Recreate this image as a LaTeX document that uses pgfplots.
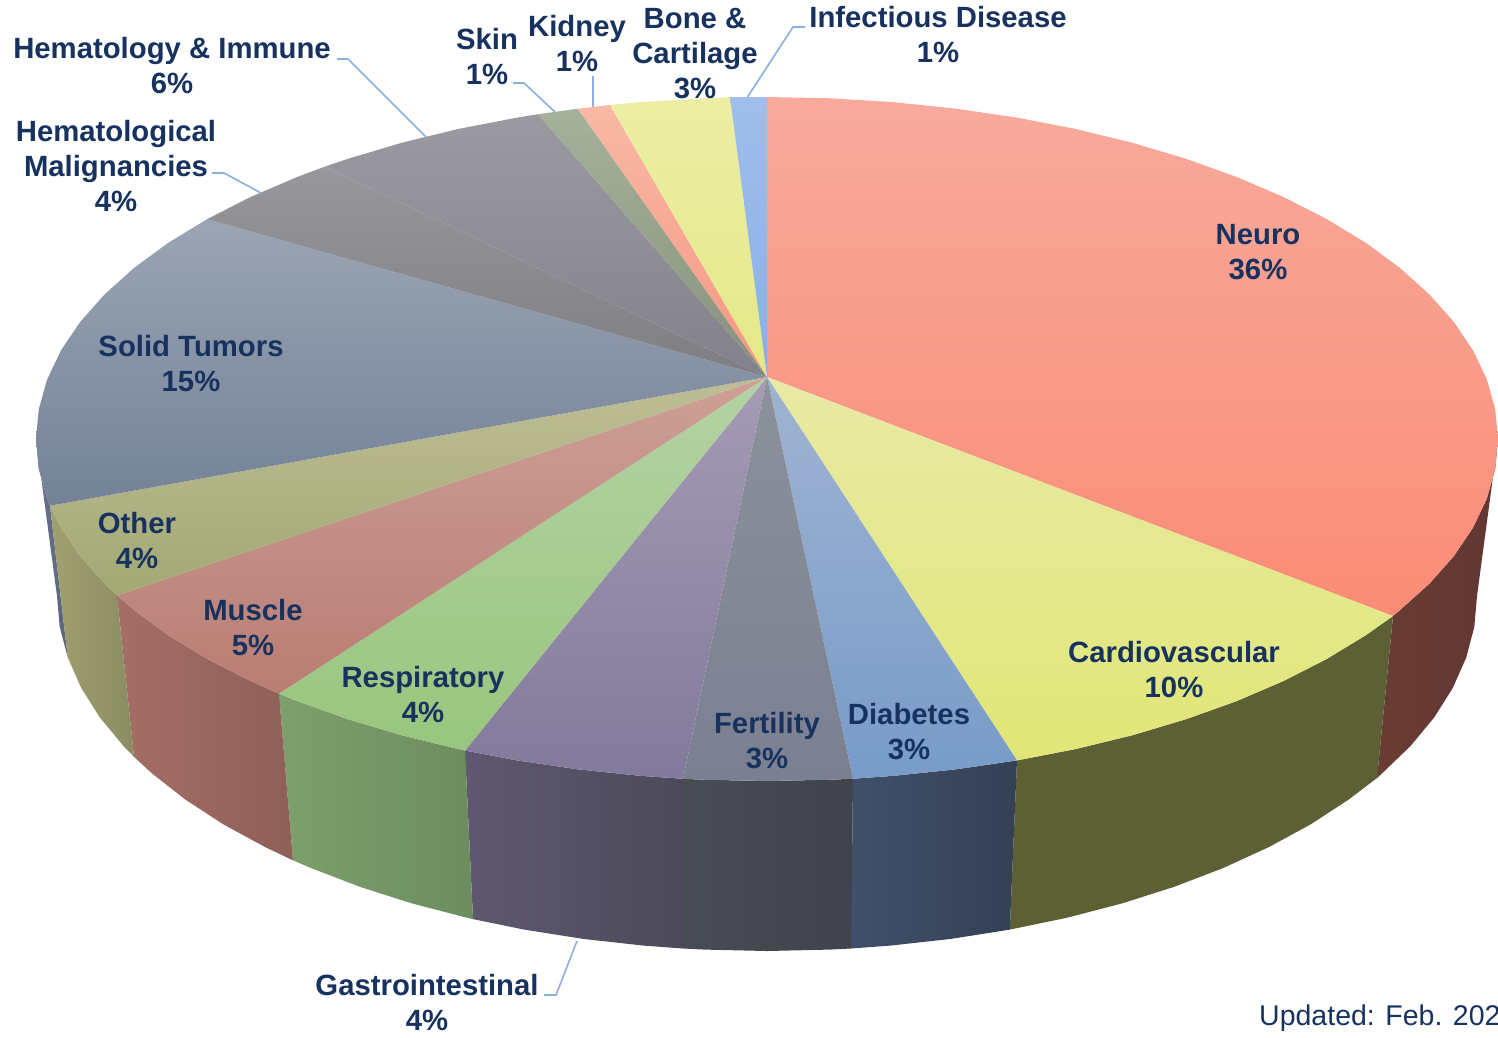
\documentclass[border=0pt]{standalone}
\usepackage{fontspec}
\setmainfont{Liberation Sans}
\usepackage{pgfplots}
\pgfplotsset{compat=1.18}
\definecolor{lab}{RGB}{23,50,95}
\definecolor{lead}{RGB}{140,175,225}
\definecolor{nT}{RGB}{247,170,156}\definecolor{nB}{RGB}{250,140,118}
\definecolor{cT}{RGB}{232,233,165}\definecolor{cB}{RGB}{224,231,118}
\definecolor{dT}{RGB}{160,180,210}\definecolor{dB}{RGB}{120,155,200}
\definecolor{fT}{RGB}{140,145,155}\definecolor{fB}{RGB}{122,128,145}
\definecolor{gT}{RGB}{165,155,180}\definecolor{gB}{RGB}{130,122,155}
\definecolor{rT}{RGB}{180,210,165}\definecolor{rB}{RGB}{152,198,125}
\definecolor{mT}{RGB}{205,160,150}\definecolor{mB}{RGB}{185,125,115}
\definecolor{oT}{RGB}{190,190,150}\definecolor{oB}{RGB}{163,168,115}
\definecolor{sT}{RGB}{155,165,180}\definecolor{sB}{RGB}{115,130,150}
\definecolor{hT}{RGB}{152,152,156}\definecolor{hB}{RGB}{125,125,130}
\definecolor{iT}{RGB}{156,154,161}\definecolor{iB}{RGB}{130,128,138}
\definecolor{kT}{RGB}{165,178,155}\definecolor{kB}{RGB}{135,145,125}
\definecolor{yT}{RGB}{248,185,165}\definecolor{yB}{RGB}{245,150,130}
\definecolor{bT}{RGB}{236,238,165}\definecolor{bB}{RGB}{228,232,135}
\definecolor{xT}{RGB}{160,190,235}\definecolor{xB}{RGB}{135,175,230}
\definecolor{nL}{RGB}{105,60,52}\definecolor{nR}{RGB}{98,55,50}
\definecolor{cL}{RGB}{93,95,52}\definecolor{cR}{RGB}{93,95,52}
\definecolor{dL}{RGB}{64,80,108}\definecolor{dR}{RGB}{52,64,84}
\definecolor{fL}{RGB}{72,76,84}\definecolor{fR}{RGB}{64,66,76}
\definecolor{gL}{RGB}{94,88,112}\definecolor{gR}{RGB}{76,74,90}
\definecolor{rL}{RGB}{125,160,108}\definecolor{rR}{RGB}{108,140,95}
\definecolor{mL}{RGB}{165,110,102}\definecolor{mR}{RGB}{142,95,88}
\definecolor{oL}{RGB}{160,160,112}\definecolor{oR}{RGB}{138,140,98}
\definecolor{sL}{RGB}{105,115,140}\definecolor{sR}{RGB}{90,100,125}
\tikzset{lbl/.style={text=lab,align=center,font=\fontsize{29.3}{35}\selectfont\bfseries,inner sep=0pt}}
\begin{document}
\begin{tikzpicture}
\path[use as bounding box] (0,0) rectangle (1498pt,1037pt);
\begin{axis}[at={(0,0)},anchor=south west,scale only axis,width=1498pt,height=1037pt,
  xmin=0,xmax=1498,ymin=0,ymax=1037,y dir=reverse,hide axis,clip=false]
% sides
\addplot[draw=none,left color=sL,right color=sR] coordinates {(50,505.7)(47.1,498.4)(38.8,468.8)(36,439)(57,596)(59.7,626.9)(67.8,657.6)} -- cycle;
\addplot[draw=none,left color=nL,right color=nR] coordinates {(1393,616)(1400.1,610)(1429.5,583.5)(1453.9,556)(1473.1,527.5)(1486.9,498.4)(1495.2,468.8)(1498,439)(1477,596)(1474.3,626.9)(1466.2,657.6)(1452.8,687.9)(1434.2,717.4)(1410.5,746)(1381.9,773.5)(1377,778)} -- cycle;
\addplot[draw=none,left color=cL,right color=cR] coordinates {(1017,760.4)(1075.9,749)(1132.5,735.2)(1186.3,719.1)(1236.9,701)(1283.9,680.8)(1327,658.8)(1365.8,635.2)(1393,616)(1377,778)(1348.6,799.6)(1310.9,824.2)(1269,847)(1223.4,867.9)(1174.2,886.8)(1122,903.4)(1067.1,917.7)(1009.8,929.6)} -- cycle;
\addplot[draw=none,left color=dL,right color=dR] coordinates {(853,778.7)(893.9,775.8)(956.2,769.3)(1017,760.4)(1009.8,929.6)(950.8,938.9)(890.3,945.6)(851,948.5)} -- cycle;
\addplot[draw=none,left color=fL,right color=fR] coordinates {(683,778.8)(703.3,779.7)(767,781)(830.7,779.7)(853,778.7)(851,948.5)(828.9,949.6)(767,951)(705.1,949.6)(683,948.5)} -- cycle;
\addplot[draw=none,left color=gL,right color=gR] coordinates {(465,750.5)(517,760.4)(577.8,769.3)(640.1,775.8)(683,778.8)(683,948.5)(643.7,945.6)(583.2,938.9)(524.2,929.6)(473,919.1)} -- cycle;
\addplot[draw=none,left color=rL,right color=rR] coordinates {(279,693.6)(297.1,701)(347.7,719.1)(401.5,735.2)(458.1,749)(465,750.5)(473,919.1)(466.9,917.7)(412,903.4)(359.8,886.8)(310.6,867.9)(293,860.3)} -- cycle;
\addplot[draw=none,left color=mL,right color=mR] coordinates {(117,595.4)(133.9,610)(168.2,635.2)(207,658.8)(250.1,680.8)(279,693.6)(293,860.3)(265,847)(223.1,824.2)(185.4,799.6)(152.1,773.5)(134,756.8)} -- cycle;
\addplot[draw=none,left color=oL,right color=oR] coordinates {(50,505.7)(60.9,527.5)(80.1,556)(104.5,583.5)(117,595.4)(134,756.8)(123.5,746)(99.8,717.4)(81.2,687.9)(67.8,657.6)} -- cycle;
% top faces
\addplot[draw=none,top color=nT,bottom color=nB] coordinates {(767,377)(767,97)(830.7,98.3)(893.9,102.2)(956.2,108.7)(1017,117.6)(1075.9,129)(1132.5,142.8)(1186.3,158.9)(1236.9,177)(1283.9,197.2)(1327,219.2)(1365.8,242.8)(1400.1,268)(1429.5,294.5)(1453.9,322)(1473.1,350.5)(1486.9,379.6)(1495.2,409.2)(1498,439)(1495.2,468.8)(1486.9,498.4)(1473.1,527.5)(1453.9,556)(1429.5,583.5)(1400.1,610)(1393,616)} -- cycle;
\addplot[draw=none,top color=cT,bottom color=cB] coordinates {(767,377)(1393,616)(1365.8,635.2)(1327,658.8)(1283.9,680.8)(1236.9,701)(1186.3,719.1)(1132.5,735.2)(1075.9,749)(1017,760.4)} -- cycle;
\addplot[draw=none,top color=dT,bottom color=dB] coordinates {(767,377)(1017,760.4)(956.2,769.3)(893.9,775.8)(853,778.7)} -- cycle;
\addplot[draw=none,top color=fT,bottom color=fB] coordinates {(767,377)(853,778.7)(830.7,779.7)(767,781)(703.3,779.7)(683,778.8)} -- cycle;
\addplot[draw=none,top color=gT,bottom color=gB] coordinates {(767,377)(683,778.8)(640.1,775.8)(577.8,769.3)(517,760.4)(465,750.5)} -- cycle;
\addplot[draw=none,top color=rT,bottom color=rB] coordinates {(767,377)(465,750.5)(458.1,749)(401.5,735.2)(347.7,719.1)(297.1,701)(279,693.6)} -- cycle;
\addplot[draw=none,top color=mT,bottom color=mB] coordinates {(767,377)(279,693.6)(250.1,680.8)(207,658.8)(168.2,635.2)(133.9,610)(117,595.4)} -- cycle;
\addplot[draw=none,top color=oT,bottom color=oB] coordinates {(767,377)(117,595.4)(104.5,583.5)(80.1,556)(60.9,527.5)(50,505.7)} -- cycle;
\addplot[draw=none,top color=sT,bottom color=sB] coordinates {(767,377)(50,505.7)(47.1,498.4)(38.8,468.8)(36,439)(38.8,409.2)(47.1,379.6)(60.9,350.5)(80.1,322)(104.5,294.5)(133.9,268)(168.2,242.8)(207,219.2)} -- cycle;
\addplot[draw=none,top color=hT,bottom color=hB] coordinates {(767,377)(207,219.2)(250.1,197.2)(297.1,177)(325,166.6)} -- cycle;
\addplot[draw=none,top color=iT,bottom color=iB] coordinates {(767,377)(325,166.6)(347.7,158.9)(401.5,142.8)(458.1,129)(517,117.6)(538,114.2)} -- cycle;
\addplot[draw=none,top color=kT,bottom color=kB] coordinates {(767,377)(538,114.2)(577.8,108.7)} -- cycle;
\addplot[draw=none,top color=yT,bottom color=yB] coordinates {(767,377)(577.8,108.7)(610,105)} -- cycle;
\addplot[draw=none,top color=bT,bottom color=bB] coordinates {(767,377)(610,105)(640.1,102.2)(703.3,98.3)(730,97.2)} -- cycle;
\addplot[draw=none,top color=xT,bottom color=xB] coordinates {(767,377)(730,97.2)(767,97)} -- cycle;
% leader lines
\addplot[lead,line width=1.6pt] coordinates {(337,59)(348,59)(426,137)};
\addplot[lead,line width=1.6pt] coordinates {(212,173)(224,173)(261,193)};
\addplot[lead,line width=1.6pt] coordinates {(513,83)(524,83)(555,112)};
\addplot[lead,line width=1.6pt] coordinates {(593,76)(593,107)};
\addplot[lead,line width=1.6pt] coordinates {(747.5,97)(793,27)(805,27)};
\addplot[lead,line width=1.6pt] coordinates {(577,941)(556,995)(544,995)};
% labels
\node[lbl] at (1258,252) {Neuro\\36\%};
\node[lbl] at (1174,670) {Cardiovascular\\10\%};
\node[lbl] at (909,732) {Diabetes\\3\%};
\node[lbl] at (767,741) {Fertility\\3\%};
\node[lbl] at (423,694) {Respiratory\\4\%};
\node[lbl] at (253,628) {Muscle\\5\%};
\node[lbl] at (137,540) {Other\\4\%};
\node[lbl] at (191,364) {Solid Tumors\\15\%};
\node[lbl] at (116,166) {Hematological\\Malignancies\\4\%};
\node[lbl] at (172,66) {Hematology \& Immune\\6\%};
\node[lbl] at (487,56) {Skin\\1\%};
\node[lbl] at (577,43) {Kidney\\1\%};
\node[lbl] at (695,54) {Bone \&\\Cartilage\\3\%};
\node[lbl] at (938,34) {Infectious Disease\\1\%};
\node[lbl] at (427,1002) {Gastrointestinal\\4\%};
\node[text=lab,anchor=west,inner sep=0pt,font=\fontsize{28.5}{34}\selectfont] at (1259,1018) {Updated: Feb. 202};
\end{axis}
\end{tikzpicture}
\end{document}
